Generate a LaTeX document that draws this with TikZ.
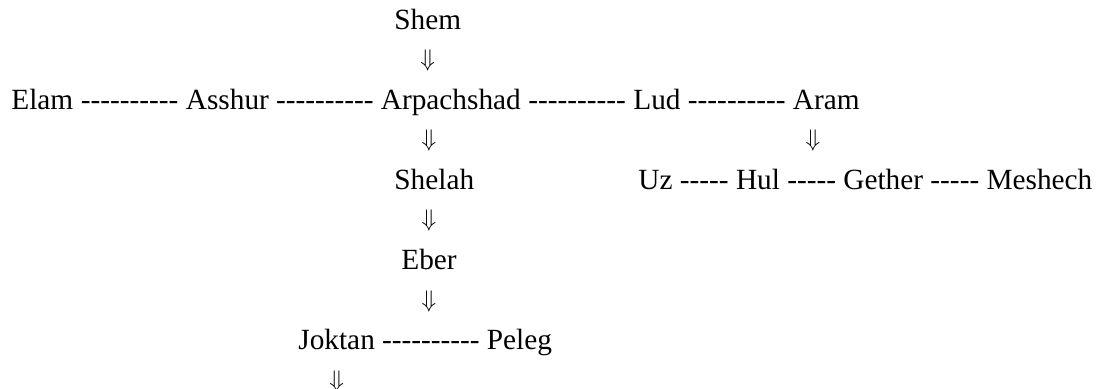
\documentclass[tikz,border=0pt]{standalone}
\usepackage{fontspec}
\setmainfont{Liberation Serif}[Ligatures=TeXOff]
\begin{document}
\begin{tikzpicture}[x=0.5pt,y=-0.5pt,
  person/.style={anchor=base west,inner sep=0pt,font=\fontsize{14.65}{17}\selectfont},
  dashes/.style={anchor=base,inner sep=0pt,font=\fontsize{14.65}{17}\selectfont},
  arr/.style={inner sep=0pt,yshift=4.5pt,font=\fontsize{11.5}{12}\selectfont}]
\useasboundingbox (0,0) rectangle (1096,389);
% names
\node[person] (shem)   at (394,30)   {Shem};
\node[person] (elam)   at (11,110)   {Elam};
\node[person] (asshur) at (185.5,110) {Asshur};
\node[person] (arpachshad) at (380.5,110) {Arpachshad};
\node[person] (lud)    at (633,110)  {Lud};
\node[person] (aram)   at (792.5,110) {Aram};
\node[person] (shelah) at (394,190)  {Shelah};
\node[person] (uz)     at (638,190)  {Uz};
\node[person] (hul)    at (735.6,190) {Hul};
\node[person] (gether) at (843,190)  {Gether};
\node[person] (meshech) at (986.2,190) {Meshech};
\node[person] (eber)   at (401,270)  {Eber};
\node[person] (joktan) at (298,350)  {Joktan};
\node[person] (peleg)  at (486.5,350) {Peleg};
% dashed text connectors
\path (elam.base east) -- node[dashes]{----------} (asshur.base west);
\path (asshur.base east) -- node[dashes]{----------} (arpachshad.base west);
\path (arpachshad.base east) -- node[dashes]{----------} (lud.base west);
\path (lud.base east) -- node[dashes]{----------} (aram.base west);
\path (uz.base east) -- node[dashes]{-----} (hul.base west);
\path (hul.base east) -- node[dashes]{-----} (gether.base west);
\path (gether.base east) -- node[dashes]{-----} (meshech.base west);
\path (joktan.base east) -- node[dashes]{----------} (peleg.base west);
% descent arrows
\path (shem.base) -- node[arr] (a1) {$\Downarrow$} (shem.base |- arpachshad.base);
\path (eber.base |- arpachshad.base) -- node[arr] (a2) {$\Downarrow$} (eber.base |- shelah.base);
\path (eber.base |- shelah.base) -- node[arr] (a3) {$\Downarrow$} (eber.base);
\path (eber.base) -- node[arr] (a4) {$\Downarrow$} (eber.base |- joktan.base);
\coordinate (uzrow) at (813,190);
\path (uzrow |- aram.base) -- node[arr] (a5) {$\Downarrow$} (uzrow);
\coordinate (jend) at (336,430);
\path (joktan.base) -- node[arr] (a6) {$\Downarrow$} (joktan.base |- jend);
\end{tikzpicture}
\end{document}
